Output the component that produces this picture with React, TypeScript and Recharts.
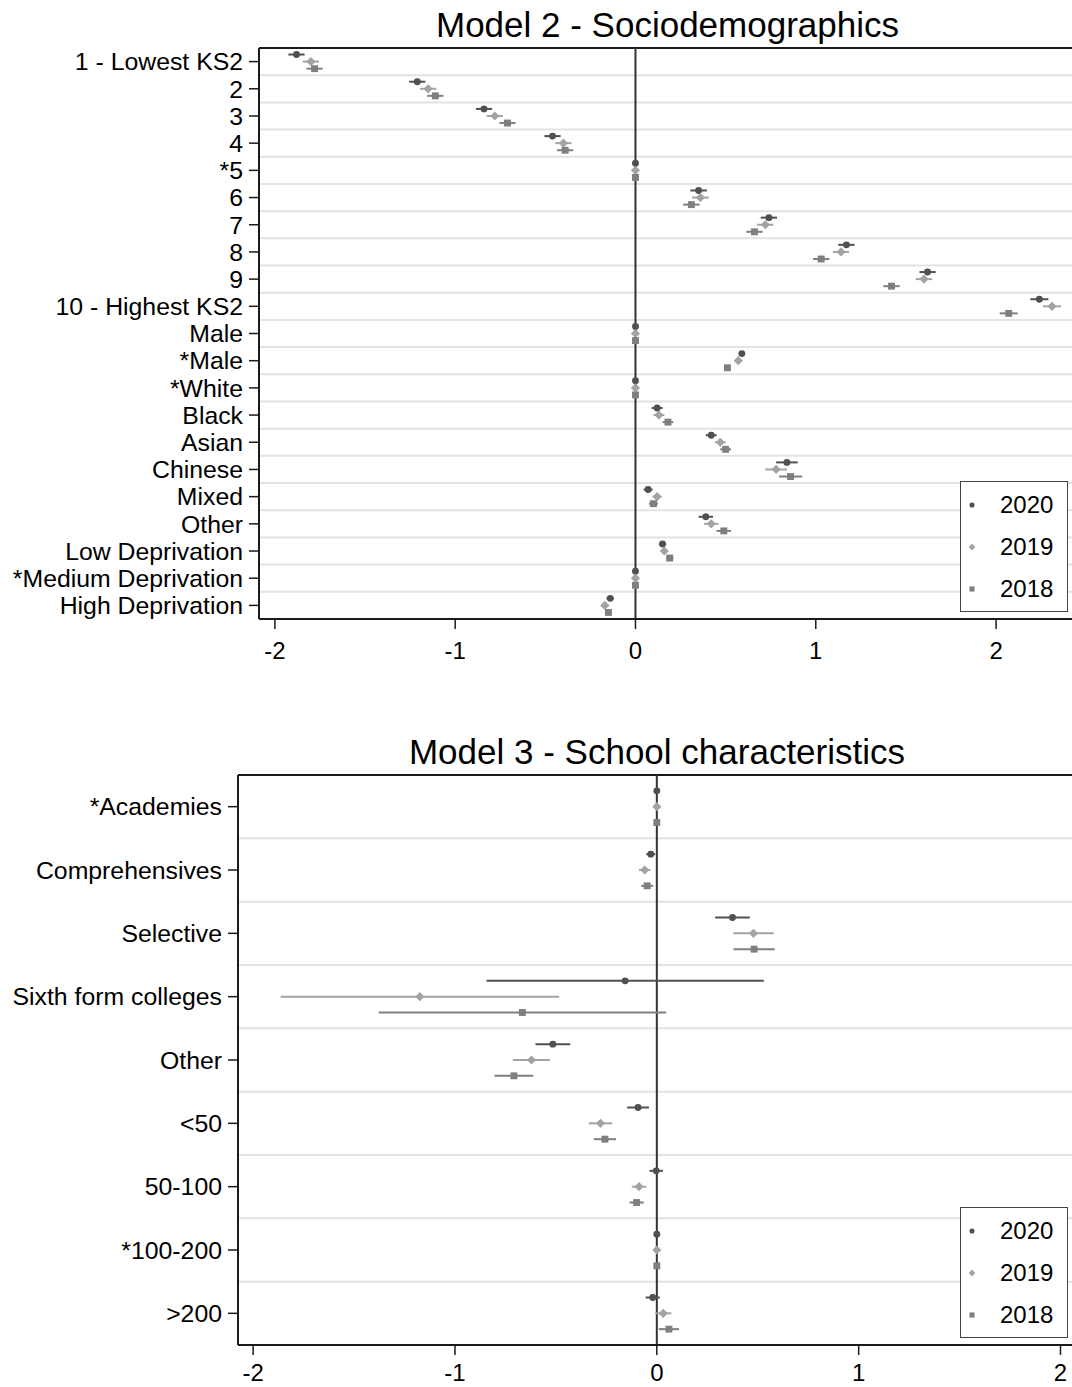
import React from 'react';
import {
  ScatterChart,
  Scatter,
  XAxis,
  YAxis,
  ErrorBar,
  ReferenceLine,
  Legend,
} from 'recharts';

const FONT = "Arial, 'Liberation Sans', Helvetica, sans-serif";

// Model 2 - Sociodemographics
const socioLabels = [
  '1 - Lowest KS2', '2', '3', '4', '*5', '6', '7', '8', '9', '10 - Highest KS2',
  'Male', '*Male', '*White', 'Black', 'Asian', 'Chinese', 'Mixed', 'Other',
  'Low Deprivation', '*Medium Deprivation', 'High Deprivation',
];
const socio2020 = [-1.88, -1.21, -0.84, -0.46, 0, 0.35, 0.74, 1.17, 1.62, 2.24, 0, 0.59, 0, 0.12, 0.42, 0.84, 0.07, 0.39, 0.15, 0, -0.14];
const socio2019 = [-1.8, -1.15, -0.78, -0.4, 0, 0.36, 0.72, 1.14, 1.6, 2.31, 0, 0.57, 0, 0.13, 0.47, 0.78, 0.12, 0.42, 0.16, 0, -0.17];
const socio2018 = [-1.78, -1.11, -0.71, -0.39, 0, 0.31, 0.66, 1.03, 1.42, 2.07, 0, 0.51, 0, 0.18, 0.5, 0.86, 0.1, 0.49, 0.19, 0, -0.15];
const socioCi2020 = [0.045, 0.045, 0.045, 0.045, 0, 0.046, 0.045, 0.045, 0.045, 0.05, 0, 0.015, 0, 0.03, 0.03, 0.06, 0.025, 0.04, 0.02, 0, 0.02];
const socioCi2019 = [0.045, 0.045, 0.045, 0.045, 0, 0.046, 0.045, 0.045, 0.045, 0.05, 0, 0.015, 0, 0.03, 0.03, 0.06, 0.025, 0.04, 0.02, 0, 0.02];
const socioCi2018 = [0.045, 0.045, 0.045, 0.045, 0, 0.046, 0.045, 0.045, 0.045, 0.05, 0, 0.015, 0, 0.03, 0.03, 0.064, 0.025, 0.04, 0.02, 0, 0.02];

// Model 3 - School characteristics
const schoolLabels = [
  '*Academies', 'Comprehensives', 'Selective', 'Sixth form colleges', 'Other',
  '<50', '50-100', '*100-200', '>200',
];
const school2020 = [0, -0.03, 0.375, -0.157, -0.515, -0.093, -0.003, 0, -0.02];
const school2019 = [0, -0.06, 0.479, -1.174, -0.621, -0.279, -0.088, 0, 0.032];
const school2018 = [0, -0.048, 0.482, -0.666, -0.708, -0.257, -0.1, 0, 0.06];
const schoolCi2020 = [0, 0.022, 0.086, 0.687, 0.086, 0.054, 0.033, 0, 0.035];
const schoolCi2019 = [0, 0.028, 0.1, 0.69, 0.092, 0.058, 0.036, 0, 0.04];
const schoolCi2018 = [0, 0.03, 0.102, 0.712, 0.096, 0.055, 0.035, 0, 0.05];

const years = ['2020', '2019', '2018'];
const xTicks = [-2, -1, 0, 1, 2];

const COLORS = ['#505050', '#a3a3a3', '#7f7f7f'];
const SHAPES = ['circle', 'diamond', 'square'];

const Marker = ({ cx, cy, kind, color, s = 1 }: any) => {
  if (cx == null || cy == null) return null;
  if (kind === 'circle') return <circle cx={cx} cy={cy} r={3 * s} fill={color} />;
  if (kind === 'diamond') {
    const d = 4 * s;
    return <polygon points={`${cx},${cy - d} ${cx + d},${cy} ${cx},${cy + d} ${cx - d},${cy}`} fill={color} />;
  }
  return <rect x={cx - 3 * s} y={cy - 3 * s} width={6 * s} height={6 * s} fill={color} />;
};

const LegendBox = () => (
  <div
    style={{
      width: 106,
      height: 127,
      border: '1px solid #444',
      background: '#fff',
      fontFamily: FONT,
      fontSize: 24,
      color: '#000',
      paddingTop: 2,
      boxSizing: 'content-box',
    }}
  >
    {years.map((y, i) => (
      <div key={y} style={{ display: 'flex', alignItems: 'center', height: 42 }}>
        <svg width={22} height={12} style={{ display: 'block' }}>
          <Marker cx={11} cy={6} kind={SHAPES[i]} color={COLORS[i]} s={0.85} />
        </svg>
        <span style={{ marginLeft: 17, lineHeight: '24px' }}>{y}</span>
      </div>
    ))}
  </div>
);

interface CoefChartProps {
  labels: string[];
  est: number[][];
  ci: number[][];
  width: number;
  height: number;
  marginTop: number;
  xAxisHeight: number;
  xTickMargin: number;
  yAxisWidth: number;
  xDomain: [number, number];
  offset: number;
  legendLeft: number;
  legendTop: number;
}

const CoefChart: React.FC<CoefChartProps> = ({
  labels, est, ci, width, height, marginTop, xAxisHeight, xTickMargin, yAxisWidth, xDomain, offset, legendLeft, legendTop,
}) => {
  const n = labels.length;
  const rows = labels.map((_, i) => i + 1);
  const series = years.map((_, k) =>
    labels.map((_, i) => ({ x: est[k][i], y: i + 1 + (k - 1) * offset, err: ci[k][i] }))
  );
  const tickStyle = { fill: '#000', fontSize: 24, fontFamily: FONT };

  return (
    <ScatterChart width={width} height={height} margin={{ top: marginTop, right: 0, bottom: 0, left: 0 }}>
      <XAxis
        type="number"
        dataKey="x"
        domain={xDomain}
        allowDataOverflow
        ticks={xTicks}
        interval={0}
        height={xAxisHeight}
        tickSize={10}
        tickMargin={xTickMargin}
        tick={tickStyle}
        axisLine={{ stroke: '#1a1a1a', strokeWidth: 2 }}
        tickLine={{ stroke: '#1a1a1a', strokeWidth: 1.5 }}
      />
      <YAxis
        type="number"
        dataKey="y"
        domain={[0.5, n + 0.5]}
        allowDataOverflow
        reversed
        ticks={rows}
        interval={0}
        width={yAxisWidth}
        tickSize={10}
        tickMargin={6}
        tick={{ ...tickStyle, fontSize: 24.8 }}
        tickFormatter={(v: number) => labels[v - 1] ?? ''}
        axisLine={{ stroke: '#1a1a1a', strokeWidth: 2 }}
        tickLine={{ stroke: '#1a1a1a', strokeWidth: 1.5 }}
      />
      {rows.slice(0, n - 1).map((r) => (
        <ReferenceLine key={r} y={r + 0.5} stroke="#e3e3e3" strokeWidth={2} />
      ))}
      <ReferenceLine y={0.5} stroke="#1a1a1a" strokeWidth={2} />
      <ReferenceLine x={0} stroke="#333" strokeWidth={2} />
      {series.map((data, k) => (
        <Scatter
          key={years[k]}
          name={years[k]}
          data={data}
          fill={COLORS[k]}
          isAnimationActive={false}
          shape={(p: any) => <Marker cx={p.cx} cy={p.cy} kind={SHAPES[k]} color={COLORS[k]} s={1.15} />}
        >
          <ErrorBar dataKey="err" direction="x" width={0} stroke={COLORS[k]} strokeWidth={2} />
        </Scatter>
      ))}
      <Legend
        layout="horizontal"
        verticalAlign="middle"
        align="center"
        content={() => <LegendBox />}
        wrapperStyle={{ position: 'absolute', left: legendLeft, top: legendTop, width: 108, height: 130 }}
      />
    </ScatterChart>
  );
};

const titleStyle: React.CSSProperties = {
  position: 'absolute',
  left: 0,
  width: 1335,
  textAlign: 'center',
  fontFamily: FONT,
  fontSize: 35,
  lineHeight: '35px',
  color: '#000',
  whiteSpace: 'nowrap',
};

export default function App() {
  return (
    <div
      style={{
        position: 'absolute',
        left: 0,
        top: 0,
        width: 1072,
        height: 1387,
        overflow: 'hidden',
        background: '#fff',
      }}
    >
      <div style={{ ...titleStyle, top: 7 }}>Model 2 - Sociodemographics</div>
      <div style={{ position: 'absolute', left: 0, top: 0 }}>
        <CoefChart
          labels={socioLabels}
          est={[socio2020, socio2019, socio2018]}
          ci={[socioCi2020, socioCi2019, socioCi2018]}
          width={1072}
          height={664}
          marginTop={48}
          xAxisHeight={45}
          xTickMargin={13}
          yAxisWidth={259}
          xDomain={[-2.088, 2.421]}
          offset={0.26}
          legendLeft={960}
          legendTop={481}
        />
      </div>
      <div style={{ ...titleStyle, width: 1314, top: 734 }}>Model 3 - School characteristics</div>
      <div style={{ position: 'absolute', left: 0, top: 700 }}>
        <CoefChart
          labels={schoolLabels}
          est={[school2020, school2019, school2018]}
          ci={[schoolCi2020, schoolCi2019, schoolCi2018]}
          width={1072}
          height={687}
          marginTop={75}
          xAxisHeight={42}
          xTickMargin={9}
          yAxisWidth={238}
          xDomain={[-2.075, 2.057]}
          offset={0.25}
          legendLeft={960}
          legendTop={507}
        />
      </div>
    </div>
  );
}
